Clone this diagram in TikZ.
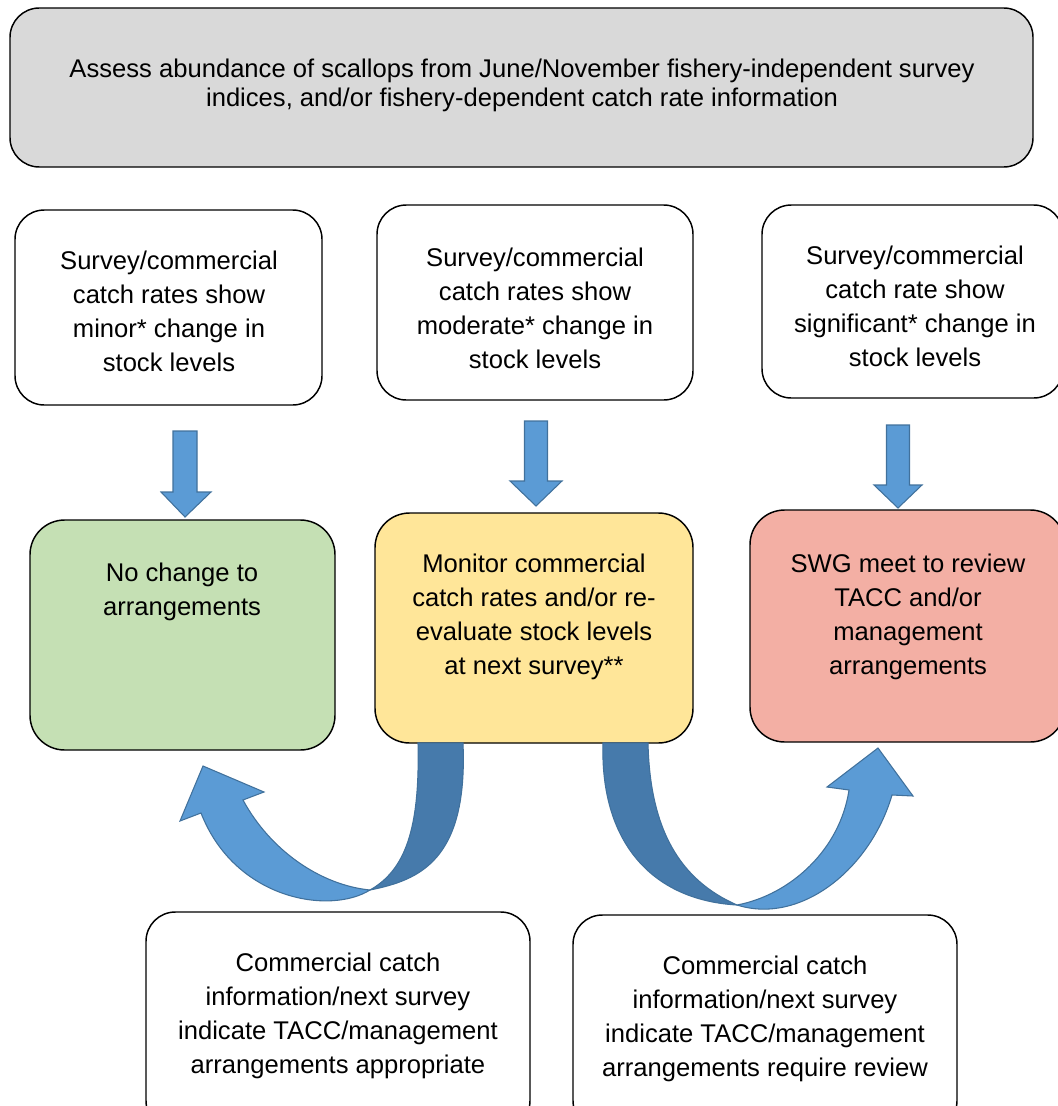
\documentclass[tikz,border=0pt]{standalone}
\usepackage{fontspec}
\setmainfont{Liberation Sans}
\definecolor{topgray}{HTML}{D9D9D9}
\definecolor{boxgreen}{HTML}{C5E0B4}
\definecolor{boxyellow}{HTML}{FFE699}
\definecolor{boxred}{HTML}{F3AFA4}
\definecolor{arrowblue}{HTML}{5B9BD5}
\definecolor{arrowdark}{HTML}{467AAB}
\definecolor{arrowedge}{HTML}{41719C}
\begin{document}
\begin{tikzpicture}[x=0.75pt,y=-0.75pt,
  box/.style={draw=black, line width=1.1pt, rounded corners=22pt, inner sep=0pt},
  cbox/.style={box, rounded corners=26pt},
  txt/.style={align=center, font=\fontsize{19.2}{25.5}\selectfont, inner sep=0pt},
  toptxt/.style={align=center, font=\fontsize{19.2}{21.75}\selectfont, inner sep=0pt},
  darrow/.style={fill=arrowblue, draw=arrowedge, line width=0.8pt, line join=miter},
  ribbon/.style={fill=arrowdark, draw=arrowedge, line width=0.8pt},
  curvearrow/.style={fill=arrowblue, draw=arrowedge, line width=0.8pt, line join=miter}]
\useasboundingbox (0,0) rectangle (1057,1106);

% boxes
\node[box, fill=topgray, minimum width=767.25pt, minimum height=119.25pt] (top) at (521.5,87.5) {};
\node[box, fill=white, minimum width=230.25pt, minimum height=146.25pt] (sa) at (168.5,307.5) {};
\node[box, fill=white, minimum width=237pt, minimum height=146.25pt] (sb) at (535,302.5) {};
\node[box, fill=white, minimum width=225.75pt, minimum height=144.75pt] (sc) at (912.5,301.5) {};
\node[cbox, fill=boxgreen, minimum width=228.75pt, minimum height=172.5pt] (ga) at (182.5,635) {};
\node[cbox, fill=boxyellow, minimum width=238.5pt, minimum height=172.5pt] (ya) at (534,628) {};
\node[cbox, fill=boxred, minimum width=236.25pt, minimum height=174pt] (ra) at (907.5,626) {};
\node[box, fill=white, minimum width=288pt, minimum height=163.5pt] (bl) at (338,1021) {};
\node[box, fill=white, minimum width=288pt, minimum height=161.25pt] (br) at (765,1022.5) {};

% texts
\node[toptxt] (ttop) at (522,85) {Assess abundance of scallops from June/November fishery-independent survey\\indices, and/or fishery-dependent catch rate information};
\node[txt] (tsa) at (169,311) {Survey/commercial\\catch rates show\\minor* change in\\stock levels};
\node[txt] (tsb) at (535,308) {Survey/commercial\\catch rates show\\moderate* change in\\stock levels};
\node[txt] (tsc) at (915,306) {Survey/commercial\\catch rate show\\significant* change in\\stock levels};
\node[txt] (tga) at (182,592) {No change to\\arrangements};
\node[txt] (tya) at (534,617) {Monitor commercial\\catch rates and/or re-\\evaluate stock levels\\at next survey**};
\node[txt] (tra) at (908,617) {SWG meet to review\\TACC and/or\\management\\arrangements};
\node[txt] (tbl) at (338,1016) {Commercial catch\\information/next survey\\indicate TACC/management\\arrangements appropriate};
\node[txt] (tbr) at (765,1019) {Commercial catch\\information/next survey\\indicate TACC/management\\arrangements require review};

% down arrows
\draw[darrow] (173,431) -- (197,431) -- (197,492) -- (211,492) -- (185,517) -- (161,492) -- (173,492) -- cycle;
\draw[darrow] (524.5,421) -- (547.5,421) -- (547.5,481) -- (562,481) -- (536,506) -- (510,481) -- (524.5,481) -- cycle;
\draw[darrow] (886.5,425) -- (909.5,425) -- (909.5,485) -- (922,485) -- (898,508) -- (874,485) -- (886.5,485) -- cycle;

% left curved arrow
\draw[curvearrow] (370,890) .. controls (330,915) and (235,900) .. (201,813)
  -- (180,821) -- (203,766) -- (264,792) -- (243,800)
  .. controls (270,850) and (320,885) .. (370,890) -- cycle;
\draw[ribbon] (418,743) .. controls (420,830) and (405,870) .. (370,890)
  .. controls (420,880) and (468,860) .. (463,743) -- cycle;

% right curved arrow
\draw[ribbon] (603,743) .. controls (600,840) and (650,900) .. (737,905)
  .. controls (680,880) and (650,830) .. (648,743) -- cycle;
\draw[curvearrow] (737,905) .. controls (800,925) and (870,870) .. (892,795)
  -- (913,796) -- (878,748) -- (827,787) -- (849,790)
  .. controls (840,850) and (790,895) .. (737,905) -- cycle;
\end{tikzpicture}
\end{document}
